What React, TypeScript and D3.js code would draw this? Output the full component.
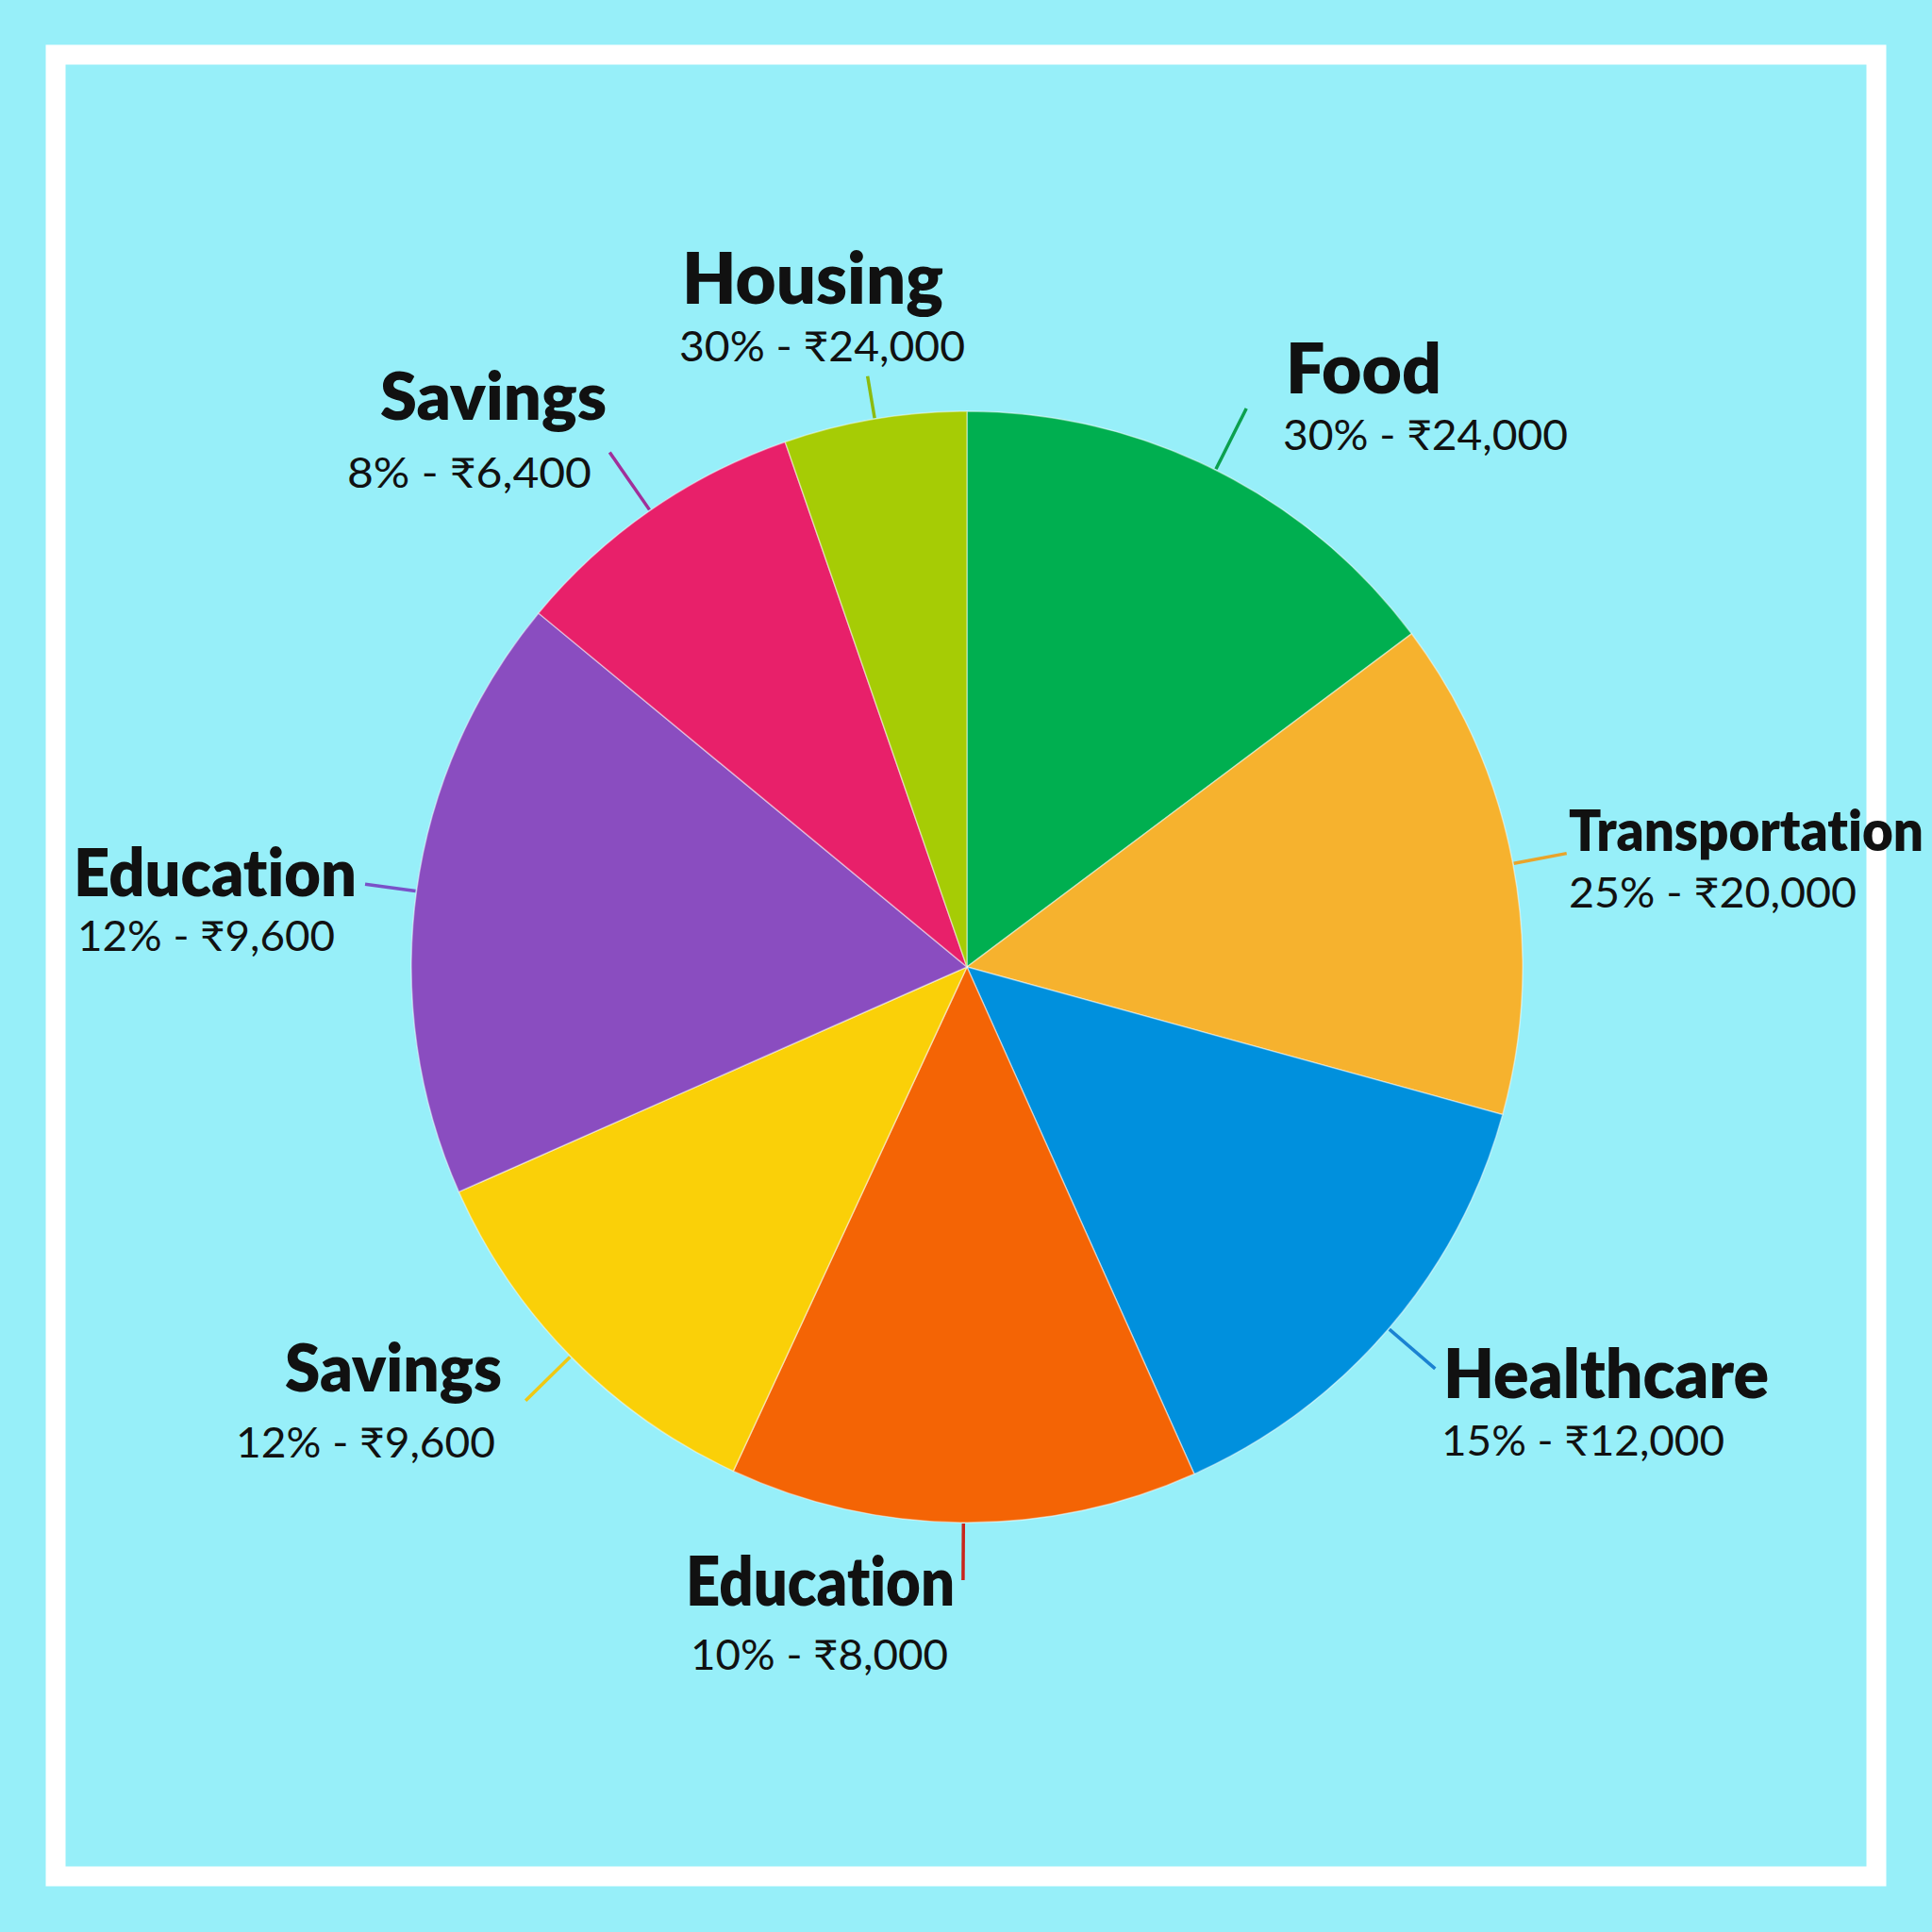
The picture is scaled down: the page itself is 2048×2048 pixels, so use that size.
import React from "react";
import * as d3 from "d3";

// Slice sizes (share of the full circle, %)
const categories = ["Food", "Transportation", "Healthcare", "Education", "Savings", "Education", "Savings", "Housing"];
const sliceShares = [14.75, 14.5, 14.0, 13.6, 11.45, 17.6, 8.7, 5.3];
const percentLabels = ["30%", "25%", "15%", "10%", "12%", "12%", "8%", "30%"];
const amountLabels = ["₹24,000", "₹20,000", "₹12,000", "₹8,000", "₹9,600", "₹9,600", "₹6,400", "₹24,000"];
const sliceColors = ["#00AF50", "#F6B22E", "#0090DD", "#F46405", "#FAD008", "#8A4DC0", "#E8206A", "#A6CC05"];
const leaderColors = ["#0CA04E", "#E9A42A", "#1B82D2", "#C8261C", "#F0C812", "#7A52C8", "#A0309A", "#8CBB10"];

// Label layout (pixel positions of the text lines)
const labelLayout = [
  { tx: 1363, ty: 417, tw: 165, ts: 73, sx: 1360, sy: 477, sw: 302, lr: 662 },
  { tx: 1663, ty: 902, tw: 376, ts: 60, sx: 1663, sy: 962, sw: 305, lr: 647 },
  { tx: 1530, ty: 1482, tw: 345, ts: 72, sx: 1528, sy: 1543, sw: 300, lr: 654 },
  { tx: 727, ty: 1702, tw: 285, ts: 72, sx: 732, sy: 1770, sw: 273, lr: 650 },
  { tx: 302, ty: 1475, tw: 230, ts: 70, sx: 250, sy: 1545, sw: 275, lr: 656 },
  { tx: 78, ty: 950, tw: 300, ts: 70, sx: 82, sy: 1008, sw: 273, lr: 644 },
  { tx: 403, ty: 445, tw: 240, ts: 70, sx: 368, sy: 517, sw: 259, lr: 664 },
  { tx: 723, ty: 322, tw: 277, ts: 76, sx: 720, sy: 383, sw: 303, lr: 635 },
];

const W = 2048;
const H = 2048;
const CX = 1025;
const CY = 1025;
const R = 589;
const FONT = "Lato, 'Noto Sans', 'DejaVu Sans', sans-serif";

export default function App() {
  const pie = d3.pie<number>().sort(null).value((d) => d);
  const arcs = pie(sliceShares);
  const arc = d3.arc<d3.PieArcDatum<number>>().innerRadius(0).outerRadius(R);

  return (
    <svg
      width={W}
      height={H}
      viewBox={`0 0 ${W} ${H}`}
      style={{ position: "absolute", left: 0, top: 0, display: "block" }}
    >
      <rect x={0} y={0} width={W} height={H} fill="#97EFF9" />
      <rect x={59} y={58} width={1930} height={1931} fill="none" stroke="#FFFFFF" strokeWidth={21} />
      <g transform={`translate(${CX},${CY})`}>
        {arcs.map((a, i) => (
          <path key={i} d={arc(a) || ""} fill={sliceColors[i]} stroke="rgba(255,255,255,0.45)" strokeWidth={1.5} />
        ))}
        {arcs.map((a, i) => {
          const mid = (a.startAngle + a.endAngle) / 2;
          const [x1, y1] = d3.pointRadial(mid, R + 1);
          const [x2, y2] = d3.pointRadial(mid, labelLayout[i].lr);
          return <line key={"l" + i} x1={x1} y1={y1} x2={x2} y2={y2} stroke={leaderColors[i]} strokeWidth={3.5} />;
        })}
      </g>
      {categories.map((c, i) => {
        const L = labelLayout[i];
        return (
          <g
            key={"t" + i}
            fill="#111111"
            fontFamily={FONT}
            style={{ fontVariantLigatures: "none", fontFeatureSettings: "'liga' 0, 'clig' 0" }}
          >
            <text x={L.tx} y={L.ty} fontSize={L.ts} fontWeight={800} textLength={L.tw} lengthAdjust="spacingAndGlyphs">
              {c}
            </text>
            <text x={L.sx} y={L.sy} fontSize={44} fontWeight={400} textLength={L.sw} lengthAdjust="spacingAndGlyphs">
              {`${percentLabels[i]} - ${amountLabels[i]}`}
            </text>
          </g>
        );
      })}
    </svg>
  );
}
